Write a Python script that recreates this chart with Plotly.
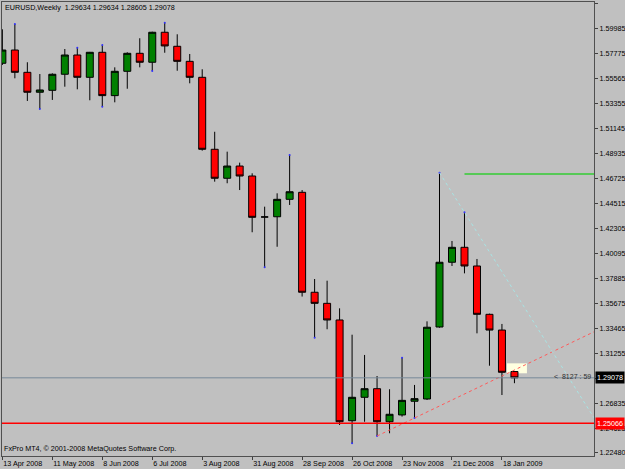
import plotly.graph_objects as go
import pandas as pd

# ---------------- data ----------------
start_week = "2008-04-13"
opens = [1.5687, 1.5804, 1.5607, 1.5431, 1.5448, 1.5590, 1.5760, 1.5563, 1.5784, 1.5401,
         1.5616, 1.5775, 1.5696, 1.5961, 1.5837, 1.5704, 1.5563, 1.4927, 1.4671, 1.4779,
         1.4691, 1.4329, 1.4331, 1.4485, 1.4547, 1.3664, 1.3566, 1.3419, 1.2529, 1.2736,
         1.2812, 1.2520, 1.2580, 1.2701, 1.2721, 1.3357, 1.3929, 1.4061, 1.3896, 1.3469,
         1.3330, 1.29634]
highs = [1.5987, 1.6034, 1.5696, 1.5592, 1.5598, 1.5813, 1.5825, 1.5787, 1.5848, 1.5651,
         1.5784, 1.5908, 1.5966, 1.6046, 1.5943, 1.5769, 1.5634, 1.5082, 1.4906, 1.4809,
         1.4715, 1.4420, 1.4538, 1.4877, 1.4567, 1.3781, 1.3766, 1.3522, 1.3289, 1.3110,
         1.2924, 1.2807, 1.3086, 1.2845, 1.3407, 1.4720, 1.4117, 1.4370, 1.3958, 1.3475,
         1.3384, 1.29634]
lows = [1.5672, 1.5554, 1.5354, 1.5283, 1.5363, 1.5480, 1.5457, 1.5360, 1.5303, 1.5342,
        1.5462, 1.5651, 1.5619, 1.5780, 1.5621, 1.5510, 1.4915, 1.4641, 1.4627, 1.4567,
        1.4194, 1.3884, 1.4066, 1.4435, 1.3626, 1.3262, 1.3337, 1.2491, 1.2330, 1.2520,
        1.2394, 1.2418, 1.2565, 1.2553, 1.2712, 1.3351, 1.3896, 1.3831, 1.3301, 1.3015,
        1.2756, 1.28605]
closes = [1.5804, 1.5607, 1.5431, 1.5451, 1.5590, 1.5760, 1.5563, 1.5784, 1.5401, 1.5616,
          1.5775, 1.5696, 1.5961, 1.5840, 1.5704, 1.5563, 1.4927, 1.4671, 1.4779, 1.4691,
          1.4326, 1.4329, 1.4485, 1.4552, 1.3664, 1.3566, 1.3419, 1.2520, 1.2736, 1.2812,
          1.2520, 1.2586, 1.2709, 1.2724, 1.3355, 1.3929, 1.4061, 1.3896, 1.3469, 1.3330,
          1.2957, 1.29078]

fractal_up = [1, 6, 8, 13, 23, 32, 35, 37]
fractal_down = [3, 8, 12, 21, 25, 28, 30, 33]

support_trend = (30, 33)      # through lows of these weeks
resist_trend = (35, 37)       # through highs of these weeks
green_level = 1.4709
green_from = 37
red_level = 1.25066
note_box = (40.4, 42.0, 1.2948, 1.3036)   # weeks from start, price low/high

y_ticks = [1.62195, 1.59985, 1.57775, 1.55565, 1.53355, 1.51145, 1.48935, 1.46725,
           1.44515, 1.42305, 1.40095, 1.37885, 1.35675, 1.33465, 1.31255, 1.29045,
           1.26835, 1.24625, 1.22480]
hidden_ticks = [1.29045]      # covered by the bid price label
x_tick_labels = ["13 Apr 2008", "11 May 2008", "8 Jun 2008", "6 Jul 2008", "3 Aug 2008",
                 "31 Aug 2008", "28 Sep 2008", "26 Oct 2008", "23 Nov 2008", "21 Dec 2008",
                 "18 Jan 2009"]

# ---------------- build ----------------
t0 = pd.Timestamp(start_week)
def wk(f):
    return t0 + pd.Timedelta(days=7 * f)

dates = [wk(i) for i in range(len(opens))]
x_lo, x_hi = -0.03, 47.37
y_lo, y_hi = 1.22173, 1.62283
FONT = "Liberation Sans, Arial, sans-serif"

fig = go.Figure()

fig.add_shape(type="rect", xref="x", yref="y",
              x0=wk(note_box[0]), x1=wk(note_box[1]), y0=note_box[2], y1=note_box[3],
              fillcolor="#FFFFE0", line=dict(width=0), layer="below")

fig.add_trace(go.Candlestick(
    x=dates, open=opens, high=highs, low=lows, close=closes,
    increasing=dict(fillcolor="#008000", line=dict(color="#000000", width=1)),
    decreasing=dict(fillcolor="#FF0000", line=dict(color="#000000", width=1)),
    whiskerwidth=0, showlegend=False, hoverinfo="skip"))

# fractal dots
fig.add_trace(go.Scatter(
    x=[dates[i] for i in fractal_up] + [dates[i] for i in fractal_down],
    y=[highs[i] for i in fractal_up] + [lows[i] for i in fractal_down],
    mode="markers", marker=dict(size=2, color="#3030FF"),
    showlegend=False, hoverinfo="skip"))

def ray(a, b, pa, pb):
    slope = (pb - pa) / (b - a)
    return [wk(a), wk(x_hi)], [pa, pa + slope * (x_hi - a)]

rx, ry = ray(support_trend[0], support_trend[1], lows[support_trend[0]], lows[support_trend[1]])
fig.add_trace(go.Scatter(x=rx, y=ry, mode="lines",
                         line=dict(color="#FF5A5A", width=1, dash="3px,3px"),
                         showlegend=False, hoverinfo="skip"))
cx, cy = ray(resist_trend[0], resist_trend[1], highs[resist_trend[0]], highs[resist_trend[1]])
fig.add_trace(go.Scatter(x=cx, y=cy, mode="lines",
                         line=dict(color="#A8E4E4", width=1, dash="3px,3px"),
                         showlegend=False, hoverinfo="skip"))

# green level
fig.add_trace(go.Scatter(x=[wk(green_from), wk(x_hi)], y=[green_level, green_level],
                         mode="lines", line=dict(color="#33CC33", width=1.5),
                         showlegend=False, hoverinfo="skip"))

bid = closes[-1]
fig.add_shape(type="line", xref="paper", yref="y", x0=0, x1=1, y0=bid, y1=bid,
              line=dict(color="#778899", width=1), layer="above")
fig.add_shape(type="line", xref="paper", yref="y", x0=0, x1=1, y0=red_level, y1=red_level,
              line=dict(color="#FF0000", width=1.5), layer="above")

# texts
hdr = "EURUSD,Weekly  " + " ".join(f"{v:.5f}" for v in (opens[-1], highs[-1], lows[-1], closes[-1]))
fig.add_annotation(text=hdr, xref="paper", yref="paper", x=0, y=1, xanchor="left",
                   yanchor="middle", xshift=1, yshift=-5.5, showarrow=False,
                   font=dict(family=FONT, size=7.2, color="#000000"))
fig.add_annotation(text="FxPro MT4, © 2001-2008 MetaQuotes Software Corp.", xref="paper",
                   yref="paper", x=0, y=0, xanchor="left", yanchor="middle", xshift=0,
                   yshift=8, showarrow=False, font=dict(family=FONT, size=7.2, color="#000000"))
fig.add_annotation(text="<  8127 : 59", xref="paper", yref="y", x=1, y=bid, xanchor="right",
                   yanchor="bottom", xshift=-1, yshift=-4, showarrow=False,
                   font=dict(family=FONT, size=7, color="#303030"))
fig.add_annotation(text=f"{bid:.5f}", xref="paper", yref="y", x=1, y=bid, xanchor="left",
                   yanchor="middle", xshift=1, showarrow=False, bgcolor="#000000",
                   borderpad=1, font=dict(family=FONT, size=7.2, color="#FFFFFF"))
fig.add_annotation(text=f"{red_level:.5f}", xref="paper", yref="y", x=1, y=red_level,
                   xanchor="left", yanchor="middle", xshift=1, showarrow=False,
                   bgcolor="#FF0000", borderpad=1,
                   font=dict(family=FONT, size=7.2, color="#FFFFFF"))

fig.update_layout(
    width=625, height=469,
    margin=dict(l=2, r=31, t=2, b=13, pad=0),
    paper_bgcolor="#C0C0C0", plot_bgcolor="#C0C0C0",
    font=dict(family=FONT, size=7.2, color="#000000"),
    boxgap=0.2, boxgroupgap=0.3,
    showlegend=False,
    xaxis=dict(type="date", range=[wk(x_lo), wk(x_hi)], rangeslider=dict(visible=False),
               tickvals=[wk(4 * k) for k in range(len(x_tick_labels))],
               ticktext=x_tick_labels, ticks="outside", ticklen=3, tickcolor="#404040",
               ticklabelposition="outside right", tickangle=0, automargin=False,
               showgrid=False, zeroline=False,
               showline=True, mirror=True, linecolor="#505050", linewidth=1,
               tickfont=dict(family=FONT, size=7.2, color="#000000")),
    yaxis=dict(range=[y_lo, y_hi], side="right", tickvals=y_ticks,
               ticktext=["" if v in hidden_ticks else f"{v:.5f}" for v in y_ticks],
               ticks="outside", ticklen=3, automargin=False,
               tickcolor="#404040", showgrid=False, zeroline=False, showline=True,
               mirror=True, linecolor="#505050", linewidth=1,
               tickfont=dict(family=FONT, size=7.2, color="#000000")),
)

fig.write_html("out.html")
